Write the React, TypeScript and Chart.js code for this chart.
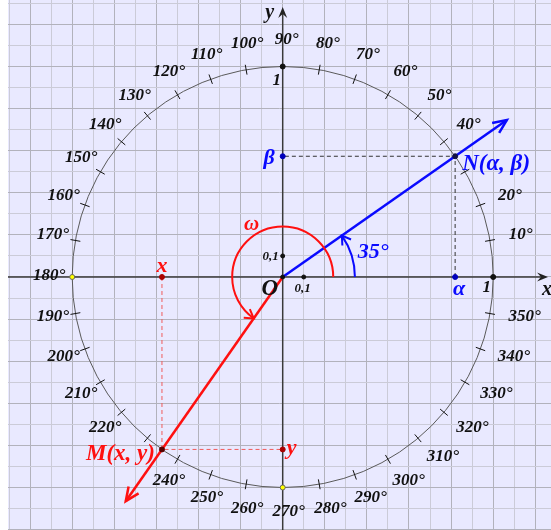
import React, { useEffect, useRef } from "react";
import { Chart, registerables } from "chart.js";

Chart.register(...registerables);

// ---- data ----
const angleN = 35; // angle of N(α, β)
const angleM = 235; // ω, angle of M(x, y)
const vectorLength = 1.3;
const arcRadiusN = 0.343;
const arcRadiusM = 0.24;
const labelRadius = 1.1;
const degreeLabels = [
  10, 20, 40, 50, 60, 70, 80, 90, 100, 110, 120, 130, 140, 150, 160, 170, 180,
  190, 200, 210, 220, 240, 250, 260, 270, 280, 290, 300, 310, 320, 330, 340, 350,
];
const tickAngles = [
  10, 20, 30, 40, 50, 60, 70, 80, 100, 110, 120, 130, 140, 150, 160, 170, 190,
  200, 210, 220, 230, 240, 250, 260, 280, 290, 300, 310, 320, 330, 340, 350,
];
const unitPointsDark = [
  { x: 0, y: 1 },
  { x: 1, y: 0 },
];
const unitPointsYellow = [
  { x: -1, y: 0 },
  { x: 0, y: -1 },
];
const tenthPoints = [
  { x: 0, y: 0.1 },
  { x: 0.1, y: 0 },
];
const xRange = [-1.305, 1.2746];
const yRange = [-1.2019, 1.3159];
const gridStep = 0.1;

const BG = "#e9e9ff";
const GRID_MAJOR = "#b2b2bc";
const GRID_MINOR = "#cbcbd8";
const BLUE = "#0a0aff";
const RED = "#ff1010";
const SERIF = '"Liberation Serif", "DejaVu Serif", serif';

const rad = (d: number) => (d * Math.PI) / 180;

export default function App() {
  const ref = useRef<HTMLCanvasElement>(null);

  useEffect(() => {
    document.body.style.margin = "0";
    const canvas = ref.current!;
    const N = { x: Math.cos(rad(angleN)), y: Math.sin(rad(angleN)) };
    const M = { x: Math.cos(rad(angleM)), y: Math.sin(rad(angleM)) };
    const tipN = { x: vectorLength * N.x, y: vectorLength * N.y };
    const tipM = { x: vectorLength * M.x, y: vectorLength * M.y };

    const vArrow = (
      ctx: CanvasRenderingContext2D,
      x: number,
      y: number,
      dx: number,
      dy: number,
      len: number,
      half: number,
      color: string,
      width: number
    ) => {
      const a = Math.atan2(dy, dx);
      ctx.save();
      ctx.strokeStyle = color;
      ctx.lineWidth = width;
      ctx.lineJoin = "miter";
      ctx.beginPath();
      ctx.moveTo(x - len * Math.cos(a - half), y - len * Math.sin(a - half));
      ctx.lineTo(x, y);
      ctx.lineTo(x - len * Math.cos(a + half), y - len * Math.sin(a + half));
      ctx.stroke();
      ctx.restore();
    };

    const axisArrow = (
      ctx: CanvasRenderingContext2D,
      x: number,
      y: number,
      dx: number,
      dy: number
    ) => {
      const px = -dy,
        py = dx;
      ctx.save();
      ctx.fillStyle = "#222";
      ctx.beginPath();
      ctx.moveTo(x, y);
      ctx.lineTo(x - 11 * dx + 4.5 * px, y - 11 * dy + 4.5 * py);
      ctx.lineTo(x - 7 * dx, y - 7 * dy);
      ctx.lineTo(x - 11 * dx - 4.5 * px, y - 11 * dy - 4.5 * py);
      ctx.closePath();
      ctx.fill();
      ctx.restore();
    };

    const text = (
      ctx: CanvasRenderingContext2D,
      s: string,
      x: number,
      y: number,
      size: number,
      color: string,
      align: CanvasTextAlign = "center"
    ) => {
      ctx.save();
      ctx.font = `italic bold ${size}px ${SERIF}`;
      ctx.fillStyle = color;
      ctx.textAlign = align;
      ctx.textBaseline = "middle";
      ctx.fillText(s, x, y);
      ctx.restore();
    };

    const plugin = {
      id: "trigCircle",
      beforeDraw(chart: any) {
        const { ctx, chartArea: a } = chart;
        ctx.save();
        ctx.fillStyle = BG;
        ctx.fillRect(a.left, a.top, a.right - a.left, a.bottom - a.top);
        ctx.restore();
      },
      beforeDatasetsDraw(chart: any) {
        const { ctx, chartArea: a } = chart;
        const xs = chart.scales.x,
          ys = chart.scales.y;
        const X = (v: number) => xs.getPixelForValue(v);
        const Y = (v: number) => ys.getPixelForValue(v);
        const cx = X(0),
          cy = Y(0),
          R = X(1) - X(0);
        ctx.save();
        // axes
        ctx.strokeStyle = "#3a3a3a";
        ctx.lineWidth = 1.5;
        ctx.beginPath();
        ctx.moveTo(a.left, cy);
        ctx.lineTo(a.right - 6, cy);
        ctx.moveTo(cx, a.bottom);
        ctx.lineTo(cx, a.top + 12);
        ctx.stroke();
        axisArrow(ctx, a.right - 3, cy, 1, 0);
        axisArrow(ctx, cx, a.top + 7, 0, -1);
        // circle
        ctx.strokeStyle = "#5a5a5a";
        ctx.lineWidth = 1;
        ctx.beginPath();
        ctx.arc(cx, cy, R, 0, Math.PI * 2);
        ctx.stroke();
        // tick marks
        ctx.strokeStyle = "#111";
        ctx.lineWidth = 1;
        ctx.beginPath();
        for (const t of tickAngles) {
          const c = Math.cos(rad(t)),
            s = Math.sin(rad(t));
          ctx.moveTo(cx + (R - 5) * c, cy - (R - 5) * s);
          ctx.lineTo(cx + (R + 5) * c, cy - (R + 5) * s);
        }
        ctx.stroke();
        ctx.restore();
      },
      afterDatasetsDraw(chart: any) {
        const { ctx, chartArea: a } = chart;
        const xs = chart.scales.x,
          ys = chart.scales.y;
        const X = (v: number) => xs.getPixelForValue(v);
        const Y = (v: number) => ys.getPixelForValue(v);
        const cx = X(0),
          cy = Y(0),
          R = X(1) - X(0);

        // vector arrowheads
        vArrow(ctx, X(tipN.x), Y(tipN.y), X(tipN.x) - cx, Y(tipN.y) - cy, 15, rad(24), BLUE, 2.5);
        vArrow(ctx, X(tipM.x), Y(tipM.y), X(tipM.x) - cx, Y(tipM.y) - cy, 15, rad(24), RED, 2.5);

        // angle arcs
        const arcs = [
          { r: arcRadiusN * R, ang: angleN, color: BLUE },
          { r: arcRadiusM * R, ang: angleM, color: RED },
        ];
        for (const arc of arcs) {
          ctx.save();
          ctx.strokeStyle = arc.color;
          ctx.lineWidth = 2;
          ctx.beginPath();
          ctx.arc(cx, cy, arc.r, 0, -rad(arc.ang), true);
          ctx.stroke();
          ctx.restore();
          const ex = cx + arc.r * Math.cos(rad(arc.ang));
          const ey = cy - arc.r * Math.sin(rad(arc.ang));
          vArrow(ctx, ex, ey, -Math.sin(rad(arc.ang)), -Math.cos(rad(arc.ang)), 10, rad(32), arc.color, 2);
        }

        // degree labels
        ctx.save();
        ctx.font = `italic bold 17px ${SERIF}`;
        for (const d of degreeLabels) {
          const c = Math.cos(rad(d)),
            s = Math.sin(rad(d));
          const s2 = `${d}°`;
          const w = ctx.measureText(s2).width;
          const px = cx + labelRadius * R * c;
          const py = cy - labelRadius * R * s;
          const left = px - (w * (1 - c)) / 4 - 2;
          const yy = py - 4.5 * s - 1;
          text(ctx, s2, left, yy, 17, "#111", "left");
        }
        ctx.restore();

        // unit / tenth labels
        text(ctx, "1", X(0) - 6, Y(1) + 14, 17, "#111");
        text(ctx, "1", X(1) - 6.5, Y(0) + 11, 17, "#111");
        text(ctx, "0,1", X(0) - 4, Y(0.1) + 1, 13, "#111", "right");
        text(ctx, "0,1", X(0.1) - 1, Y(0) + 12, 13, "#111");
        text(ctx, "O", cx - 13, cy + 12, 23, "#111");

        // axis labels
        text(ctx, "x", a.right - 4, cy + 13, 20, "#111");
        text(ctx, "y", cx - 13, a.top + 13, 20, "#111");

        // N labels (blue)
        text(ctx, "N(α, β)", X(N.x) + 7, Y(N.y) + 8, 23, BLUE, "left");
        text(ctx, "β", X(0) - 8, Y(N.y) + 2, 22, BLUE, "right");
        text(ctx, "α", X(N.x) + 4, Y(0) + 12, 22, BLUE);
        text(ctx, "35°", cx + 75, cy - 25, 22, BLUE, "left");

        // M labels (red)
        text(ctx, "M(x, y)", X(M.x) - 7, Y(M.y) + 5, 23, RED, "right");
        text(ctx, "x", X(M.x), Y(0) - 11, 22, RED);
        text(ctx, "y", X(0) + 4, Y(M.y) - 1, 22, RED, "left");
        text(ctx, "ω", cx - 31, cy - 52, 21, RED);
      },
    };

    const gridColor = (c: any) => {
      const v = c.tick ? c.tick.value : 0;
      const k = Math.abs(Math.round(v * 10));
      return k % 2 === 0 ? GRID_MAJOR : GRID_MINOR;
    };

    const chart = new Chart(canvas, {
      type: "scatter",
      data: {
        datasets: [
          {
            data: [{ x: 0, y: 0 }],
            pointRadius: 2,
            backgroundColor: "#111",
            borderColor: "#111",
          },
          {
            data: unitPointsDark,
            pointRadius: 2.5,
            backgroundColor: "#111",
            borderColor: "#111",
          },
          {
            data: unitPointsYellow,
            pointRadius: 2.5,
            backgroundColor: "#ffff00",
            borderColor: "#666",
            borderWidth: 1,
          },
          {
            data: tenthPoints,
            pointRadius: 2,
            backgroundColor: "#111",
            borderColor: "#111",
          },
          {
            data: [N],
            pointRadius: 2.5,
            backgroundColor: "#111144",
            borderColor: "#111144",
          },
          {
            data: [
              { x: N.x, y: 0 },
              { x: 0, y: N.y },
            ],
            pointRadius: 2.5,
            backgroundColor: "#0000bb",
            borderColor: "#0000bb",
          },
          {
            data: [M],
            pointRadius: 2.5,
            backgroundColor: "#550000",
            borderColor: "#550000",
          },
          {
            data: [
              { x: M.x, y: 0 },
              { x: 0, y: M.y },
            ],
            pointRadius: 2.5,
            backgroundColor: "#aa0000",
            borderColor: "#aa0000",
          },
          {
            data: [{ x: 0, y: 0 }, tipN],
            showLine: true,
            borderColor: BLUE,
            borderWidth: 2.5,
            pointRadius: 0,
          },
          {
            data: [{ x: 0, y: 0 }, tipM],
            showLine: true,
            borderColor: RED,
            borderWidth: 2.5,
            pointRadius: 0,
          },
          {
            data: [
              { x: N.x, y: 0 },
              { x: N.x, y: N.y },
              { x: 0, y: N.y },
            ],
            showLine: true,
            borderColor: "#333",
            borderWidth: 1,
            borderDash: [4, 3],
            pointRadius: 0,
          },
          {
            data: [
              { x: M.x, y: 0 },
              { x: M.x, y: M.y },
              { x: 0, y: M.y },
            ],
            showLine: true,
            borderColor: "#f05a5a",
            borderWidth: 1,
            borderDash: [4, 3],
            pointRadius: 0,
          },
        ],
      },
      options: {
        animation: false,
        responsive: false,
        devicePixelRatio: 1,
        layout: {
          autoPadding: false,
          padding: { left: 8, top: 0, right: 0, bottom: 0 },
        },
        plugins: {
          legend: { display: false },
          tooltip: { enabled: false },
        },
        events: [],
        scales: {
          x: {
            type: "linear",
            min: xRange[0],
            max: xRange[1],
            ticks: { display: false, stepSize: gridStep, includeBounds: false },
            grid: { color: gridColor, drawTicks: false, lineWidth: 1 },
            border: { display: false },
            afterFit: (s: any) => {
              s.height = 0;
            },
          },
          y: {
            type: "linear",
            min: yRange[0],
            max: yRange[1],
            ticks: { display: false, stepSize: gridStep, includeBounds: false },
            grid: { color: gridColor, drawTicks: false, lineWidth: 1 },
            border: { display: false },
            afterFit: (s: any) => {
              s.width = 0;
            },
          },
        },
      },
      plugins: [plugin],
    } as any);

    return () => chart.destroy();
  }, []);

  return (
    <canvas
      ref={ref}
      width={551}
      height={530}
      style={{ display: "block", width: 551, height: 530 }}
    />
  );
}
